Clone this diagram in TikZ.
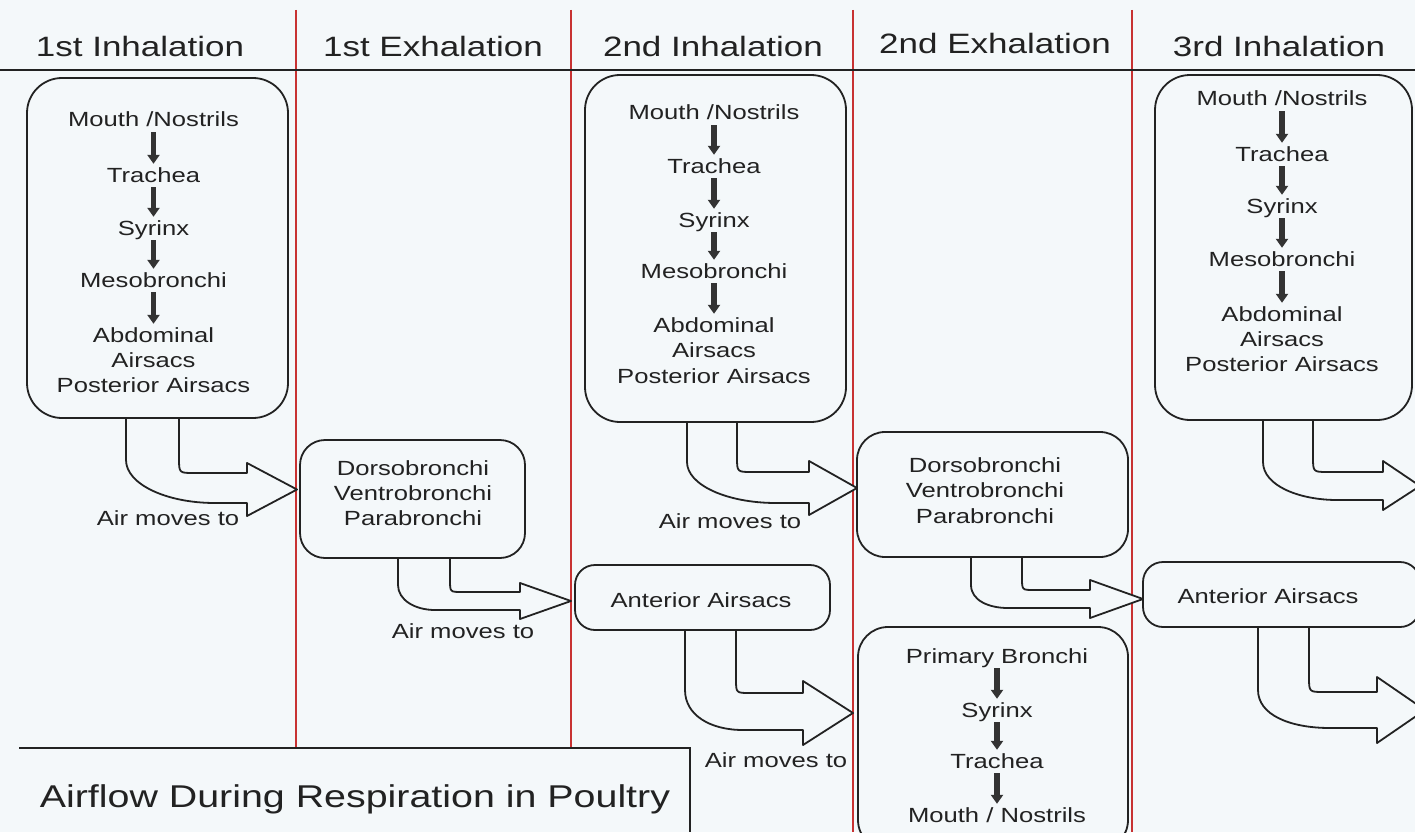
\documentclass[tikz,border=0pt]{standalone}
\usepackage{fontspec}
\setmainfont{Liberation Sans}[FakeStretch=1.25]
\usetikzlibrary{arrows.meta}
\definecolor{bgc}{HTML}{F4F8FA}
\definecolor{ink}{HTML}{222222}
\definecolor{arrc}{HTML}{333333}
\definecolor{redc}{RGB}{200,50,50}
\tikzset{
  box/.style={draw=ink, line width=1.8pt, fill=bgc, inner sep=0pt},
  txt/.style={inner sep=0pt, text=ink, font=\fontsize{20.5}{25}\selectfont, text height=15pt, text depth=4pt, anchor=base},
  hdr/.style={inner sep=0pt, text=ink, font=\fontsize{28}{30}\selectfont, anchor=base},
  ttl/.style={inner sep=0pt, text=ink, font=\fontsize{31.5}{34}\selectfont, anchor=base},
  dn/.style={line width=5.5pt, draw=arrc, -{Triangle[width=12pt,length=9pt]}},
  bentarrow/.style={draw=ink, line width=1.8pt, fill=bgc, line join=round},
  redline/.style={draw=redc, line width=1.8pt},
  rule/.style={draw=ink, line width=2.5pt},
}
\begin{document}
\begin{tikzpicture}[x=1pt,y=-1pt]
\useasboundingbox (0,0) rectangle (1415,832);
\clip (0,0) rectangle (1415,832);
\fill[bgc] (0,0) rectangle (1415,832);

% separators
\draw[redline] (296,10) -- (296,748);
\draw[redline] (571,10) -- (571,748);
\draw[redline] (853,10) -- (853,832);
\draw[redline] (1132,10) -- (1132,832);
\draw[rule] (0,70) -- (1415,70);

% headers
\node[hdr] (h1) at (140,57) {1st Inhalation};
\node[hdr] (h2) at (433,57) {1st Exhalation};
\node[hdr] (h3) at (713,57) {2nd Inhalation};
\node[hdr] (h4) at (995,54) {2nd Exhalation};
\node[hdr] (h5) at (1279,57) {3rd Inhalation};

% bent arrows (drawn under boxes)
\draw[bentarrow] (126,418) -- (126,460) .. controls (126,484) and (166,503) .. (215,503) -- (247,503) -- (247,516) -- (297,489.5) -- (247,463) -- (247,473) -- (194,473) .. controls (179,473) .. (179,458) -- (179,418) -- cycle;
\draw[bentarrow] (398,558) -- (398,585) .. controls (398,600) and (415,610) .. (435,610) -- (520,610) -- (520,619) -- (571,601) -- (520,583) -- (520,592) -- (462,592) .. controls (450,592) .. (450,580) -- (450,558) -- cycle;
\draw[bentarrow] (687,422) -- (687,462) .. controls (687,485) and (727,503) .. (776,503) -- (809,503) -- (809,515) -- (857,488) -- (809,461) -- (809,472) -- (752,472) .. controls (737,472) .. (737,457) -- (737,422) -- cycle;
\draw[bentarrow] (685,630) -- (685,690) .. controls (685,715) and (710,730) .. (743,730) -- (803,730) -- (803,745) -- (853,713) -- (803,681) -- (803,693) -- (750,693) .. controls (736,693) .. (736,679) -- (736,630) -- cycle;
\draw[bentarrow] (971,557) -- (971,585) .. controls (971,600) and (988,608) .. (1008,608) -- (1090,608) -- (1090,618) -- (1143,599) -- (1090,580) -- (1090,590) -- (1034,590) .. controls (1022,590) .. (1022,578) -- (1022,557) -- cycle;
\draw[bentarrow] (1263,420) -- (1263,462) .. controls (1263,486) and (1300,500) .. (1337,500) -- (1383,500) -- (1383,510) -- (1420,486) -- (1383,461) -- (1383,472) -- (1328,472) .. controls (1313,472) .. (1313,457) -- (1313,420) -- cycle;
\draw[bentarrow] (1258,627) -- (1258,690) .. controls (1258,715) and (1290,728) .. (1330,728) -- (1377,728) -- (1377,743) -- (1425,710) -- (1377,677) -- (1377,692) -- (1324,692) .. controls (1309,692) .. (1309,677) -- (1309,627) -- cycle;

% boxes
\node[box, rounded corners=35pt, minimum width=261pt, minimum height=340pt] (b1) at (157.5,248) {};
\node[box, rounded corners=25pt, minimum width=225pt, minimum height=118pt] (b2) at (412.5,499) {};
\node[box, rounded corners=35pt, minimum width=261pt, minimum height=347pt] (b3) at (715.5,248.5) {};
\node[box, rounded corners=20pt, minimum width=255pt, minimum height=65pt] (b4) at (702.5,597.5) {};
\node[box, rounded corners=28pt, minimum width=271pt, minimum height=125pt] (b5) at (992.5,494.5) {};
\node[box, rounded corners=30pt, minimum width=270pt, minimum height=223pt] (b6) at (993,738.5) {};
\node[box, rounded corners=35pt, minimum width=257pt, minimum height=345pt] (b7) at (1283.5,247.5) {};
\node[box, rounded corners=20pt, minimum width=277pt, minimum height=65pt] (b8) at (1281.5,594.5) {};

% box 1
\node[txt] (a1) at (153.5,127) {Mouth /Nostrils};
\node[txt] (a2) at (153.5,182) {Trachea};
\node[txt] (a3) at (153.5,235) {Syrinx};
\node[txt] (a4) at (153.5,287) {Mesobronchi};
\node[txt] (a5) at (153.5,342) {Abdominal};
\node[txt] (a6) at (153.5,367) {Airsacs};
\node[txt] (a7) at (153.5,392) {Posterior Airsacs};
\draw[dn] ([yshift=-1pt]a1.south) -- ([yshift=3pt]a2.north);
\draw[dn] ([yshift=-1pt]a2.south) -- ([yshift=3pt]a3.north);
\draw[dn] ([yshift=-1pt]a3.south) -- ([yshift=3pt]a4.north);
\draw[dn] ([yshift=-1pt]a4.south) -- ([yshift=3pt]a5.north);

% box 3
\node[txt] (c1) at (714,120) {Mouth /Nostrils};
\node[txt] (c2) at (714,173) {Trachea};
\node[txt] (c3) at (714,227) {Syrinx};
\node[txt] (c4) at (714,278) {Mesobronchi};
\node[txt] (c5) at (714,332) {Abdominal};
\node[txt] (c6) at (714,357) {Airsacs};
\node[txt] (c7) at (714,383) {Posterior Airsacs};
\draw[dn] ([yshift=-1pt]c1.south) -- ([yshift=3pt]c2.north);
\draw[dn] ([yshift=-1pt]c2.south) -- ([yshift=3pt]c3.north);
\draw[dn] ([yshift=-1pt]c3.south) -- ([yshift=3pt]c4.north);
\draw[dn] ([yshift=-1pt]c4.south) -- ([yshift=3pt]c5.north);

% box 7
\node[txt] (g1) at (1282,106) {Mouth /Nostrils};
\node[txt] (g2) at (1282,161) {Trachea};
\node[txt] (g3) at (1282,213) {Syrinx};
\node[txt] (g4) at (1282,266) {Mesobronchi};
\node[txt] (g5) at (1282,321) {Abdominal};
\node[txt] (g6) at (1282,346) {Airsacs};
\node[txt] (g7) at (1282,371) {Posterior Airsacs};
\draw[dn] ([yshift=-1pt]g1.south) -- ([yshift=3pt]g2.north);
\draw[dn] ([yshift=-1pt]g2.south) -- ([yshift=3pt]g3.north);
\draw[dn] ([yshift=-1pt]g3.south) -- ([yshift=3pt]g4.north);
\draw[dn] ([yshift=-1pt]g4.south) -- ([yshift=3pt]g5.north);

% box 2
\node[txt] (d1) at (413,475) {Dorsobronchi};
\node[txt] (d2) at (413,500) {Ventrobronchi};
\node[txt] (d3) at (413,525) {Parabronchi};

% box 5
\node[txt] (e1) at (985,472) {Dorsobronchi};
\node[txt] (e2) at (985,497) {Ventrobronchi};
\node[txt] (e3) at (985,523) {Parabronchi};

% box 4 and 8
\node[txt] (f1) at (701,607) {Anterior Airsacs};
\node[txt] (k1) at (1268,603) {Anterior Airsacs};

% box 6
\node[txt] (p1) at (997,663) {Primary Bronchi};
\node[txt] (p2) at (997,717) {Syrinx};
\node[txt] (p3) at (997,768) {Trachea};
\node[txt] (p4) at (997,822) {Mouth / Nostrils};
\draw[dn] ([yshift=-1pt]p1.south) -- ([yshift=3pt]p2.north);
\draw[dn] ([yshift=-1pt]p2.south) -- ([yshift=3pt]p3.north);
\draw[dn] ([yshift=-1pt]p3.south) -- ([yshift=3pt]p4.north);

% labels
\node[txt] (l1) at (168,525) {Air moves to};
\node[txt] (l2) at (463,638) {Air moves to};
\node[txt] (l3) at (730,528) {Air moves to};
\node[txt] (l4) at (776,767) {Air moves to};

% title box
\fill[bgc] (19,748) rectangle (690,832);
\coordinate (tl) at (19,748);
\coordinate (tr) at (690,748);
\coordinate (br) at (690,832);
\draw[draw=ink, line width=1.8pt] (tl) -- (tr) -- (br);
\node[ttl] (title) at (355,807) {Airflow During Respiration in Poultry};
\end{tikzpicture}
\end{document}
